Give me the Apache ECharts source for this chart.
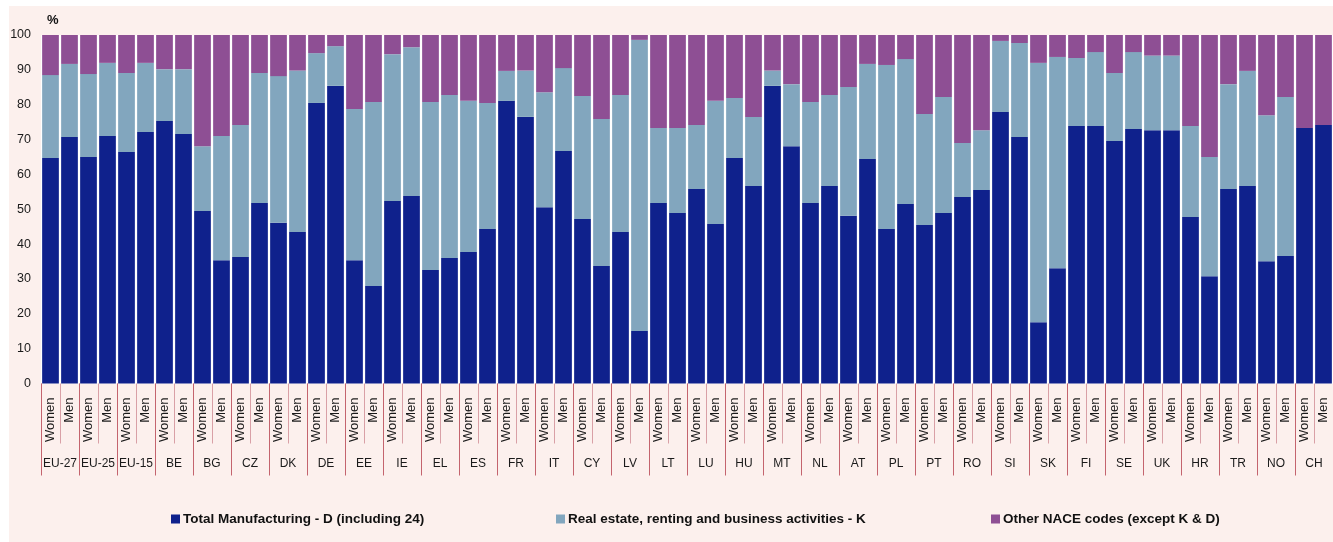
<!DOCTYPE html>
<html>
<head>
<meta charset="utf-8">
<script src="https://cdn.jsdelivr.net/npm/echarts@6/dist/echarts.min.js"></script>
<style>
  html, body { margin: 0; padding: 0; background: #ffffff; }
  #panel { position: absolute; left: 9px; top: 6px; width: 1324px; height: 536px; background: #fcf0ed; }
  #chart { position: absolute; left: 0; top: 0; width: 1333px; height: 542px; }
</style>
</head>
<body>
<div id="panel"></div>
<div id="chart"></div>
<script>
// ---- data ----
const countries = ['EU-27','EU-25','EU-15','BE','BG','CZ','DK','DE','EE','IE','EL','ES','FR','IT','CY','LV','LT','LU','HU','MT','NL','AT','PL','PT','RO','SI','SK','FI','SE','UK','HR','TR','NO','CH'];
const sexes = ['Women','Men'];
const seriesNames = ['Total Manufacturing - D (including 24)', 'Real estate, renting and business activities - K', 'Other NACE codes (except K & D)'];
const yTicks = [0,10,20,30,40,50,60,70,80,90,100];
// order per country: Women, Men
const manufacturing = [
  64.7,70.7, 65.0,71.0, 66.4,72.2, 75.3,71.6, 49.5,35.4, 36.3,51.8, 46.1,43.5, 80.5,85.4,
  35.4,28.0, 52.4,53.8, 32.6,36.0, 37.7,44.3, 81.1,76.5, 50.6,66.7, 47.2,33.7, 43.5,15.1,
  51.8,48.9, 55.8,45.8, 64.7,56.7, 85.4,68.1, 51.8,56.7, 48.1,64.4, 44.3,51.5, 45.5,48.9,
  53.5,55.5, 77.9,70.7, 17.6,33.1, 73.9,73.9, 69.6,73.0, 72.7,72.7, 47.8,30.8, 55.8,56.7,
  35.1,36.6, 73.3,74.2
];
const realEstate = [
  23.8,21.0, 23.8,21.0, 22.7,19.8, 14.9,18.6, 18.6,35.6, 37.9,37.3, 42.1,46.3, 14.3,11.4,
  43.4,52.8, 42.1,42.7, 48.2,46.8, 43.4,36.2, 8.6,13.3, 33.0,23.8, 35.3,42.2, 39.3,83.5,
  21.5,24.4, 18.4,35.3, 17.2,19.8, 4.4,17.8, 29.0,26.1, 37.0,27.3, 47.1,41.6, 31.8,33.3,
  15.5,17.2, 20.4,27.0, 74.4,60.6, 19.5,21.2, 19.5,22.1, 21.4,21.4, 26.1,34.2, 30.1,33.0,
  41.9,45.6, 0,0
];
const otherNace = [
  11.5,8.3, 11.2,8.0, 10.9,8.0, 9.8,9.8, 31.9,29.0, 25.8,10.9, 11.8,10.2, 5.2,3.2,
  21.2,19.2, 5.5,3.5, 19.2,17.2, 18.9,19.5, 10.3,10.2, 16.4,9.5, 17.5,24.1, 17.2,1.4,
  26.7,26.7, 25.8,18.9, 18.1,23.5, 10.2,14.1, 19.2,17.2, 14.9,8.3, 8.6,6.9, 22.7,17.8,
  31.0,27.3, 1.7,2.3, 8.0,6.3, 6.6,4.9, 10.9,4.9, 5.9,5.9, 26.1,35.0, 14.1,10.3,
  23.0,17.8, 26.7,25.8
];
const colors = ['#0f218c', '#82a6be', '#8e4f94'];

// ---- font detection (condensed look of the reference) ----
function hasFont(name) {
  const ctx = document.createElement('canvas').getContext('2d');
  const s = 'WomenMen 100 EU-27 Total';
  ctx.font = '40px monospace';
  const a = ctx.measureText(s).width;
  ctx.font = '40px "' + name + '", monospace';
  const b = ctx.measureText(s).width;
  return Math.abs(a - b) > 0.5;
}
const narrow = hasFont('Liberation Sans Narrow');
const FF = narrow ? '"Liberation Sans Narrow", "Liberation Sans", Arial, sans-serif' : '"Liberation Sans", Arial, sans-serif';
const SZ = narrow
  ? { sex: 16, y: 14, country: 14, legend: 16.5, pct: 14 }
  : { sex: 13, y: 12.5, country: 12, legend: 13.5, pct: 13 };

const sexCats = [];
countries.forEach(() => sexes.forEach(s => sexCats.push(s)));

const chart = echarts.init(document.getElementById('chart'), null, { renderer: 'canvas' });
const legendLefts = [171, 556, 991];
const option = {
  animation: false,
  backgroundColor: 'transparent',
  textStyle: { fontFamily: FF },
  grid: { left: 41, top: 35, width: 1297, height: 348.5, show: true, backgroundColor: '#ffffff', borderWidth: 0, containLabel: false },
  legend: seriesNames.map((n, i) => ({
    data: [n], left: legendLefts[i], top: 512, padding: 0,
    itemWidth: 9, itemHeight: 9, icon: 'rect', itemGap: 0,
    textStyle: { fontFamily: FF, fontWeight: 'bold', fontSize: SZ.legend, color: '#111111', padding: [0, 0, 0, -2] }
  })),
  xAxis: [
    {
      type: 'category', data: sexCats, position: 'bottom', gridIndex: 0,
      axisLine: { show: false },
      axisTick: { show: true, interval: 0, length: 60, lineStyle: { color: '#d9a0a6', width: 1 } },
      axisLabel: { interval: 0, rotate: 90, margin: 14, fontFamily: FF, fontSize: SZ.sex, color: '#1a1a1a' },
      splitLine: { show: false }
    },
    {
      type: 'category', data: countries, position: 'bottom', gridIndex: 0,
      axisLine: { show: false },
      axisTick: { show: true, interval: 0, length: 92, lineStyle: { color: '#c4646e', width: 1 } },
      axisLabel: { interval: 0, margin: 74, fontFamily: FF, fontSize: SZ.country, color: '#1a1a1a' },
      splitLine: { show: false }
    }
  ],
  yAxis: {
    type: 'value', min: yTicks[0], max: yTicks[yTicks.length - 1], interval: 10,
    name: '%', nameLocation: 'end', nameGap: 8,
    nameTextStyle: { fontFamily: FF, fontWeight: 'bold', fontSize: SZ.pct, color: '#111111', align: 'left', padding: [0, 0, 0, 6] },
    axisLine: { show: false }, axisTick: { show: false },
    axisLabel: { margin: 10, fontFamily: FF, fontSize: SZ.y, color: '#1a1a1a' },
    splitLine: { show: false }
  },
  series: [manufacturing, realEstate, otherNace].map((d, i) => ({
    name: seriesNames[i], type: 'bar', stack: 'total', xAxisIndex: 0,
    barCategoryGap: '12%', data: d, itemStyle: { color: colors[i] }
  }))
};
chart.setOption(option);
</script>
</body>
</html>
